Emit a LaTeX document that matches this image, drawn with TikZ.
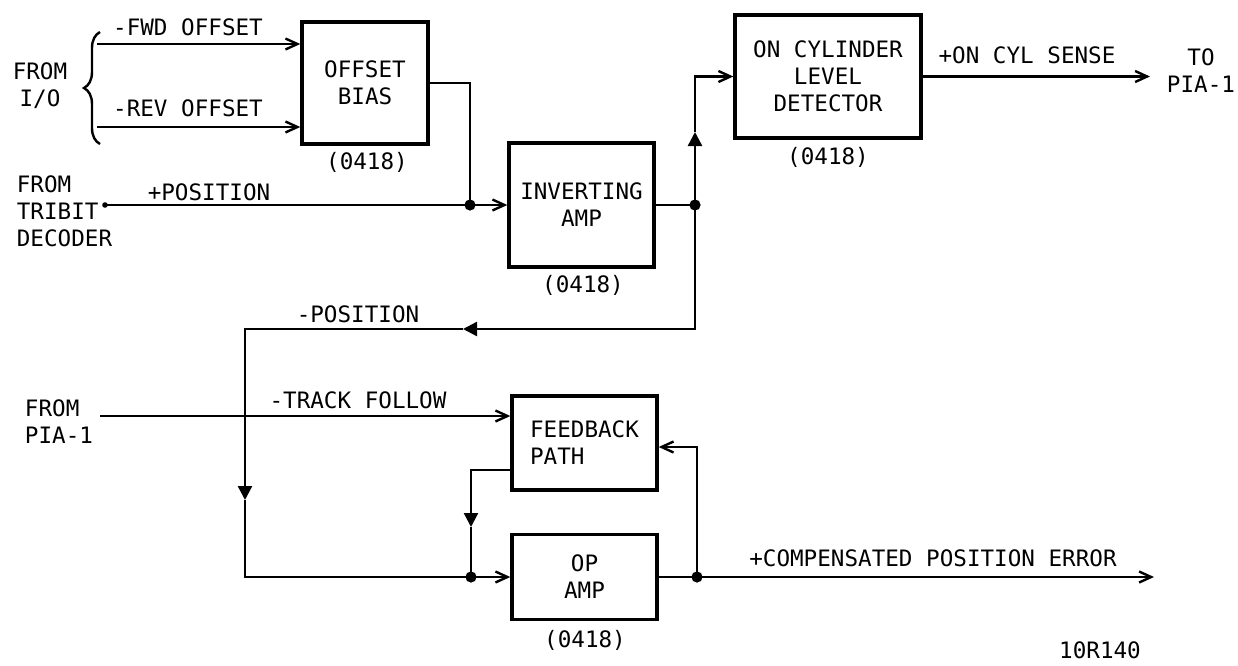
\documentclass[tikz,border=0pt]{standalone}
\usepackage{fontspec}
\setmainfont{DejaVu Sans Mono}
\usetikzlibrary{arrows.meta,decorations.pathreplacing,calc,positioning}

\begin{document}
\begin{tikzpicture}[x=0.5pt,y=-0.5pt,
  font=\fontsize{11.3}{13.6}\selectfont,
  line width=1.2pt,
  >={Straight Barb[length=6pt,width=5.5pt]},
  block/.style={draw,line width=1.7pt,inner sep=0pt,align=center},
  fwd/.style={-{Triangle[length=7pt,width=7pt]}},
  junction/.style={fill=black}]

  \useasboundingbox (0,0) rectangle (1238,665);

  % blocks
  \node[block,minimum width=63pt,minimum height=61pt] (bias) at (365,83) {OFFSET\\BIAS};
  \node[block,minimum width=72.5pt,minimum height=62pt] (inv) at (581.5,205) {INVERTING\\AMP};
  \node[block,minimum width=93pt,minimum height=61.5pt] (oncyl) at (828,76.5) {ON CYLINDER\\LEVEL\\DETECTOR};
  \node[block,minimum width=72.5pt,minimum height=47pt,align=left] (fb) at (584.5,443) {FEEDBACK\\PATH};
  \node[block,minimum width=72.5pt,minimum height=42.5pt] (opamp) at (584.5,577) {OP\\AMP};

  % board numbers
  \node (biasno) at (367,162) {(0418)};
  \node (invno) at (583,285) {(0418)};
  \node (oncylno) at (828,157) {(0418)};
  \node (opampno) at (585,640) {(0418)};

  % inputs from I/O
  \node[align=center] (fromio) at (40,86) {FROM\\I/O};
  \draw[decorate,decoration={brace,amplitude=8pt}] (100,144) -- (100,32);
  \coordinate (fwdin) at (97,44);
  \coordinate (revin) at (97,127);
  \draw[->] (fwdin) -- (fwdin -| bias.west);
  \draw[->] (revin) -- (revin -| bias.west);
  \node (fwdlabel) at (188,27) {-FWD OFFSET};
  \node (revlabel) at (188,108) {-REV OFFSET};

  % position input and inverting amp
  \node[align=left] (tribit) at (64.5,211) {FROM\\TRIBIT\\DECODER};
  \coordinate (posin) at (105,205);
  \coordinate (j1) at (470,205);
  \fill (posin) circle (1.4pt);
  \draw[->] (posin) -- (inv.west);
  \draw (bias.east) -| (j1);
  \fill[junction] (j1) circle (2.8pt);
  \node (poslabel) at (209,192) {+POSITION};

  % on cylinder branch
  \coordinate (j2) at (695,205);
  \coordinate (tup) at (695,132);
  \draw (inv.east) -- (j2);
  \fill[junction] (j2) circle (2.8pt);
  \draw[fwd] (j2) -- (tup);
  \draw[->] (tup) |- (oncyl.west);
  \coordinate (cylout) at (1150,76.5);
  \draw[->] (oncyl.east) -- (cylout);
  \node (cyllabel) at (1027,55) {+ON CYL SENSE};
  \node[align=center] (topia) at (1201,71) {TO\\PIA-1};

  % -position loop into op amp
  \coordinate (tleft) at (463,329);
  \coordinate (tdown) at (245,500);
  \coordinate (j3) at (471,577);
  \draw[fwd] (j2) |- (tleft);
  \draw[fwd] (tleft) -| (tdown);
  \draw[->] (tdown) |- (opamp.west);
  \node (neglabel) at (358,314) {-POSITION};

  % track follow input
  \node[align=left] (frompia) at (59,422) {FROM\\PIA-1};
  \coordinate (trkin) at (100,416);
  \draw[->] (trkin) -- (trkin -| fb.west);
  \node (trklabel) at (358,400) {-TRACK FOLLOW};

  % feedback path
  \coordinate (tfb) at (471,527);
  \draw[fwd] ([yshift=11pt]fb.south west) -| (tfb);
  \draw (tfb) -- (j3);
  \fill[junction] (j3) circle (2.8pt);
  \coordinate (j4) at (697,577);
  \coordinate (errout) at (1154,577);
  \draw (opamp.east) -- (j4);
  \fill[junction] (j4) circle (2.8pt);
  \draw[->] (j4) |- ([yshift=-2pt]fb.east);
  \draw[->] (j4) -- (errout);
  \node (errlabel) at (933,558) {+COMPENSATED POSITION ERROR};

  % drawing number
  \node[inner sep=0pt] (dwgno) at (1100,650) {10R140};

\end{tikzpicture}
\end{document}
